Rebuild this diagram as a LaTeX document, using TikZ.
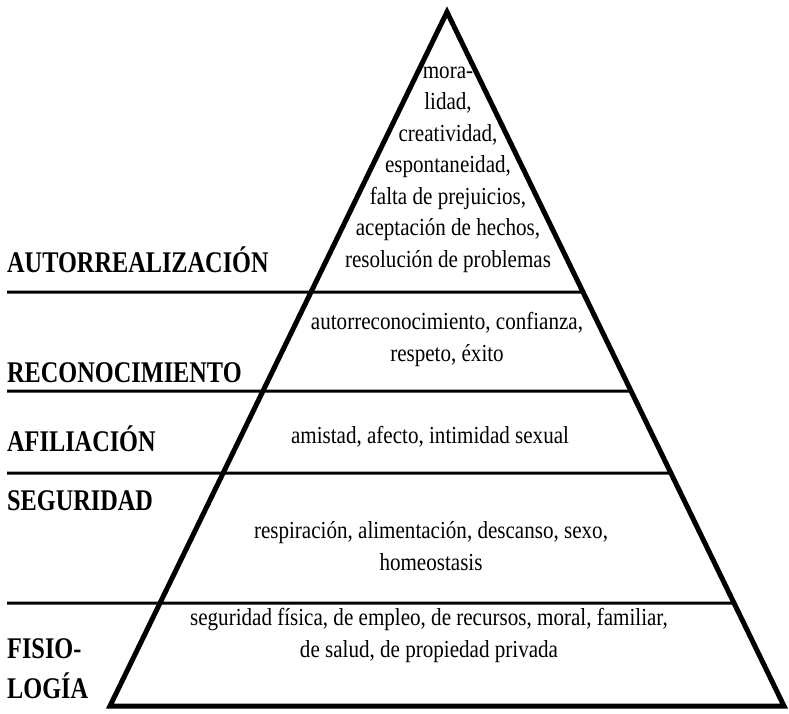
\documentclass[tikz,border=0pt]{standalone}
\usepackage{fontspec}
\setmainfont{Liberation Serif}
\newfontfamily\bodyfont[FakeStretch=0.86]{Liberation Serif}
\newfontfamily\levelfont[FakeStretch=0.81,BoldFeatures={FakeStretch=0.81}]{Liberation Serif}
\usetikzlibrary{calc}
\begin{document}
\begin{tikzpicture}[x=1pt,y=-1pt,
    level/.style={anchor=base west,inner sep=0pt,align=left,
      font=\levelfont\bfseries\fontsize{30}{40}\selectfont},
    needs/.style={anchor=base,inner sep=0pt,align=center,
      font=\bodyfont\fontsize{24.5}{31.5}\selectfont},
    divider/.style={line width=3pt}]
    \useasboundingbox (0,0) rectangle (789,713);
    % corners of the pyramid
    \coordinate (top) at (447,12);
    \coordinate (left) at (110,706);
    \coordinate (right) at (784,706);

    % dividers between the levels
    \foreach \y in {292,391,473,603}
        \draw[divider] (7,\y) -- ($(top)!{(\y-12)/694}!(right)$);

    % pyramid
    \draw[line width=5pt] (top) -- (right) -- (left) -- cycle;

    % level names (base = last line)
    \node[level] (autorrealizacion) at (7,272) {AUTORREALIZACIÓN};
    \node[level] (reconocimiento) at (7,382) {RECONOCIMIENTO};
    \node[level] (afiliacion) at (7,451) {AFILIACIÓN};
    \node[level] (seguridad) at (7,510) {SEGURIDAD};
    \node[level] (fisiologia) at (7,698) {FISIO-\\LOGÍA};

    % needs of each level
    \node[needs] (autorrealizacion needs) at (448,267) {mora-\\lidad,\\creatividad,\\espontaneidad,\\falta de prejuicios,\\aceptación de hechos,\\resolución de problemas};
    \node[needs] (reconocimiento needs) at (447,361) {autorreconocimiento, confianza,\\respeto, éxito};
    \node[needs] (afiliacion needs) at (430,443) {amistad, afecto, intimidad sexual};
    \node[needs] (seguridad needs) at (431,570) {respiración, alimentación, descanso, sexo,\\homeostasis};
    \node[needs] (fisiologia needs) at (429,657) {seguridad física, de empleo, de recursos, moral, familiar,\\de salud, de propiedad privada};
\end{tikzpicture}
\end{document}
